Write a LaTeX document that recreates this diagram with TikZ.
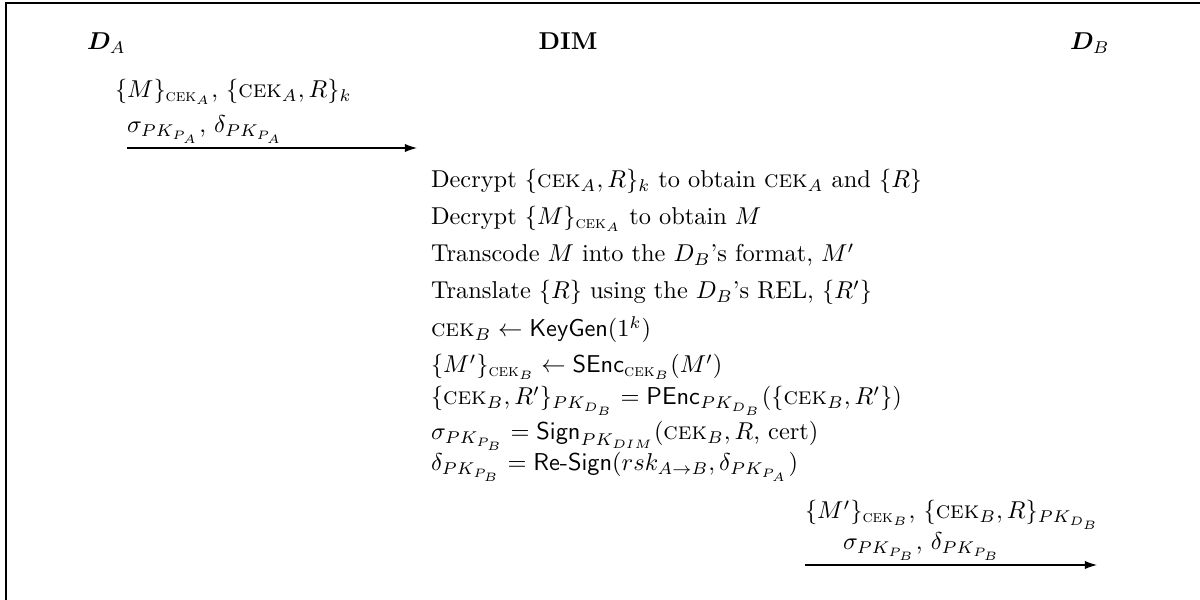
\documentclass[tikz,border=0pt]{standalone}
\usepackage{amsmath}
\usepackage{bm}
\usetikzlibrary{arrows.meta}
\newcommand{\cek}{\text{\textsc{cek}}}
\tikzset{
  txt/.style={anchor=base west, inner sep=0pt, outer sep=0pt},
  hdr/.style={anchor=base, inner sep=0pt},
  msg/.style={-{Latex[length=5pt,width=3.4pt]}, line width=0.45pt},
  frame/.style={line width=0.5pt}
}
\begin{document}
\begin{tikzpicture}[x=0.41pt,y=-0.41pt]
\useasboundingbox (0,0) rectangle (1200,600);
\draw[frame] (6,600) -- (6,3) -- (1200,3);
% headers
\node[txt] (da) at (87,50) {$\bm{D}_A$};
\node[hdr] (dim) at (568,50) {\textbf{DIM}};
\node[txt] (db) at (1070,50) {$\bm{D}_B$};
% message 1
\node[txt] (m1a) at (115,98) {$\{M\}_{\cek_A}$, $\{\cek_A, R\}_k$};
\node[txt] (m1b) at (127,133) {$\sigma_{PK_{P_A}}$, $\delta_{PK_{P_A}}$};
\coordinate (a1s) at (127,148);
\coordinate (a1e) at (417,148);
\draw[msg] (a1s) -- (a1e);
% DIM steps
\node[txt] (s1) at (431,188) {Decrypt $\{\cek_A, R\}_k$ to obtain $\cek_A$ and $\{R\}$};
\node[txt] (s2) at (431,225) {Decrypt $\{M\}_{\cek_A}$ to obtain $M$};
\node[txt] (s3) at (431,262) {Transcode $M$ into the $D_B$'s format, $M'$};
\node[txt] (s4) at (431,299) {Translate $\{R\}$ using the $D_B$'s REL, $\{R'\}$};
\node[txt] (s5) at (431,337) {$\cek_B \leftarrow \mathsf{KeyGen}(1^k)$};
\node[txt] (s6) at (431,373) {$\{M'\}_{\cek_B} \leftarrow \mathsf{SEnc}_{\cek_B}(M')$};
\node[txt] (s7) at (431,405) {$\{\cek_B, R'\}_{PK_{D_B}} = \mathsf{PEnc}_{PK_{D_B}}(\{\cek_B, R'\})$};
\node[txt] (s8) at (431,440) {$\sigma_{PK_{P_B}} = \mathsf{Sign}_{PK_{DIM}}(\cek_B, R$, cert$)$};
\node[txt] (s9) at (431,471) {$\delta_{PK_{P_B}} = \mathsf{Re\text{-}Sign}(rsk_{A\rightarrow B}, \delta_{PK_{P_A}})$};
% message 2
\node[txt] (m2a) at (805,519) {$\{M'\}_{\cek_B}$, $\{\cek_B, R\}_{PK_{D_B}}$};
\node[txt] (m2b) at (843,550) {$\sigma_{PK_{P_B}}$, $\delta_{PK_{P_B}}$};
\coordinate (a2s) at (805,565);
\coordinate (a2e) at (1097,565);
\draw[msg] (a2s) -- (a2e);
\end{tikzpicture}
\end{document}
